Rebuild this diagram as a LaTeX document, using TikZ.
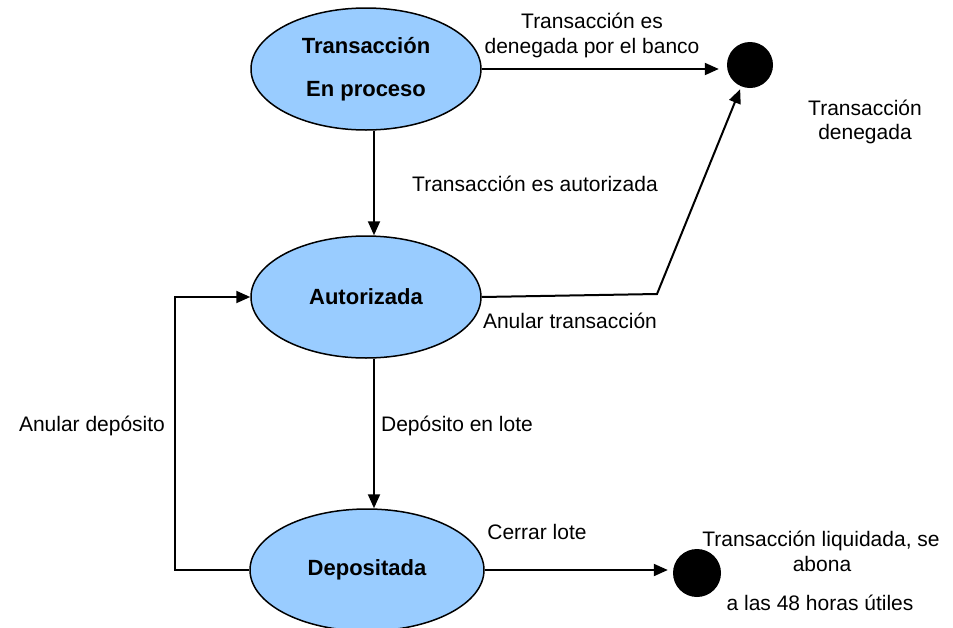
\documentclass[tikz,border=0pt]{standalone}
\usepackage{fontspec}
\setmainfont{Liberation Sans}
\usetikzlibrary{arrows.meta,shapes.geometric}
\definecolor{stateblue}{HTML}{99CCFF}
\begin{document}
\begin{tikzpicture}[x=1pt,y=-1pt,
  state/.style={ellipse,draw=black,line width=1.5pt,fill=stateblue,minimum width=230pt,minimum height=122pt,inner sep=0pt,font=\fontsize{22pt}{43pt}\selectfont\bfseries,align=center},
  final/.style={circle,fill=black,inner sep=0pt},
  lbl/.style={font=\fontsize{21pt}{25pt}\selectfont,anchor=base,inner sep=0pt},
  conn/.style={line width=2pt,-{Triangle[length=14pt,width=12pt]}}]
\useasboundingbox (0,0) rectangle (953,627);
% states
\node[state] (ep) at (366,69) {Transacción\\En proceso};
\node[state] (aut) at (366,297) {Autorizada};
\node[state,minimum width=234pt] (dep) at (367,570) {Depositada};
\node[final,minimum size=46pt] (den) at (750,65) {};
\node[final,minimum size=48pt] (liq) at (697,573) {};
% helper coordinates
\coordinate (vx) at (374,0);
\coordinate (bend) at (657,294);
\coordinate (lx) at (175,0);
% connectors
\draw[conn,shorten >=8pt] (ep.east) -- (ep.east -| den.west);
\draw[conn] (ep.south -| vx) -- (aut.north -| vx);
\draw[conn,shorten >=3pt] (aut.east) -- (bend) -- (den);
\draw[conn] (aut.south -| vx) -- (dep.north -| vx);
\draw[conn] (dep.west) -- (dep.west -| lx) -- (aut.west -| lx) -- (aut.west);
\draw[conn,shorten >=5pt] (dep.east) -- (dep.east -| liq.west);
% labels
\node[lbl] (l1a) at (592,28) {Transacción es};
\node[lbl] (l1b) at (592,53) {denegada por el banco};
\node[lbl] (l2a) at (865,115) {Transacción};
\node[lbl] (l2b) at (865,139) {denegada};
\node[lbl] (l3) at (535,191) {Transacción es autorizada};
\node[lbl] (l4) at (570,328) {Anular transacción};
\node[lbl] (l5) at (92,431) {Anular depósito};
\node[lbl] (l6) at (457,431) {Depósito en lote};
\node[lbl] (l7) at (537,539) {Cerrar lote};
\node[lbl] (l8a) at (821,546) {Transacción liquidada, se};
\node[lbl] (l8b) at (822,571) {abona};
\node[lbl] (l8c) at (820,610) {a las 48 horas útiles};
\end{tikzpicture}
\end{document}
